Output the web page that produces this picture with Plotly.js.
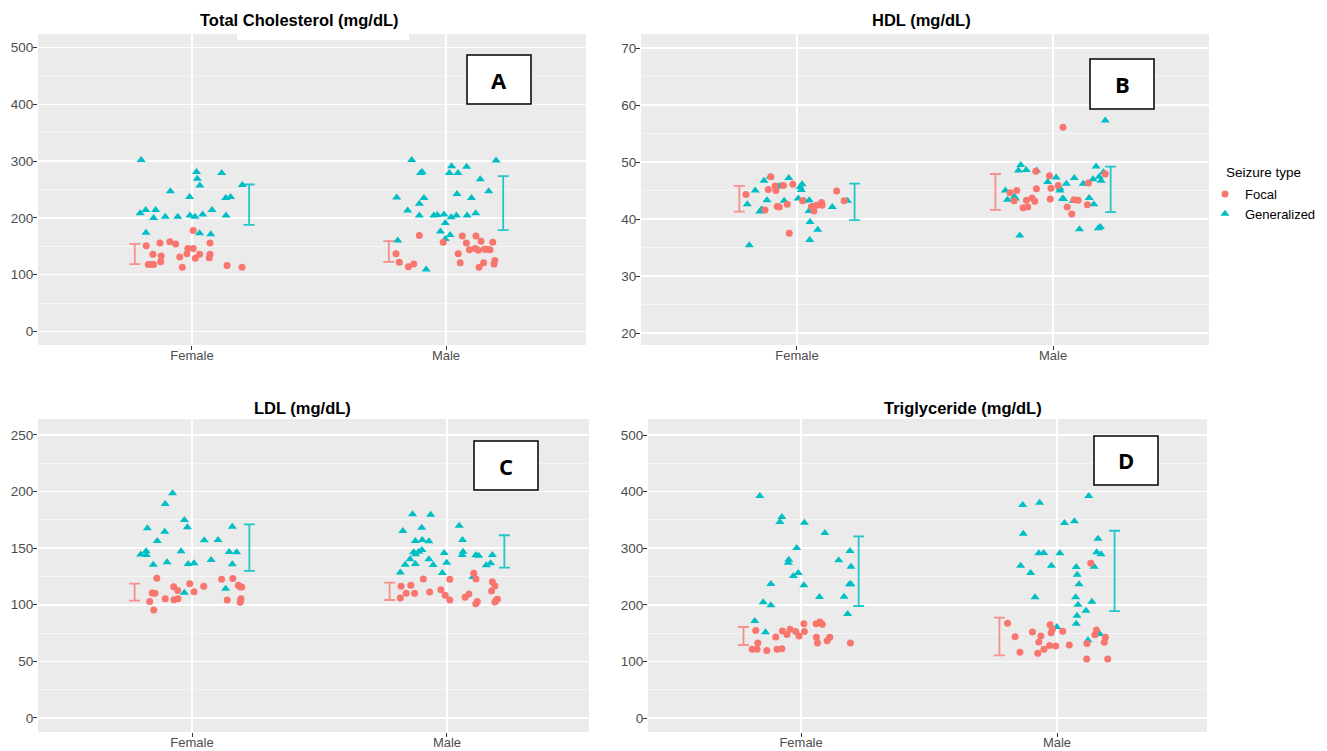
<!DOCTYPE html>
<html>
<head>
<meta charset="utf-8">
<script src="https://cdn.plot.ly/plotly-3.0.1.min.js"></script>
<style>html,body{margin:0;padding:0;background:#fff;}#chart{width:1327px;height:751px;}</style>
</head>
<body>
<div id="chart"></div>
<script>
// ---------------- DATA ----------------
const categories = ['Female', 'Male'];
const seizureTypes = ['Focal', 'Generalized'];
const legendTitle = 'Seizure type';
const panelTitles = ['Total Cholesterol (mg/dL)', 'HDL (mg/dL)', 'LDL (mg/dL)', 'Triglyceride (mg/dL)'];
const panelLetters = ['A', 'B', 'C', 'D'];

// Total cholesterol (A)
const tcFemaleGen = [302,281,279,269,257,258,247,237,235,237,214,214,208,200,202,202,204,202,206,214,204,174,173,171];
const tcFemaleGenJitter = [-0.200,0.018,0.117,0.021,0.031,0.198,-0.085,-0.009,0.133,0.152,-0.182,-0.143,-0.204,-0.151,-0.105,-0.056,-0.008,0.012,0.042,0.079,0.134,-0.181,0.030,0.074];
const tcFemaleFocal = [178,151,156,158,154,156,146,146,136,133,137,136,136,131,129,130,123,118,118,118,113,116,113];
const tcFemaleFocalJitter = [0.005,-0.180,-0.126,-0.087,-0.064,0.071,-0.016,0.005,-0.154,-0.121,-0.020,0.030,0.071,-0.048,0.013,0.068,-0.123,-0.172,-0.161,-0.151,-0.038,0.138,0.197];
const tcMaleGen = [302,291,290,301,281,279,279,279,268,247,236,235,242,235,225,213,204,204,205,206,201,204,204,208,191,176,170,163,160,109];
const tcMaleGenJitter = [-0.135,0.022,0.081,0.197,-0.094,-0.100,0.013,0.047,0.135,0.168,-0.194,-0.087,0.043,0.100,-0.105,-0.151,-0.105,-0.048,-0.034,-0.008,0.020,0.041,0.083,0.117,-0.003,-0.022,0.016,-0.003,-0.190,-0.078];
const tcMaleFocal = [169,157,168,168,156,159,157,144,146,143,145,145,144,137,137,122,119,114,121,121,125,119,113];
const tcMaleFocalJitter = [-0.105,-0.011,0.064,0.118,0.080,0.138,0.184,0.092,0.115,0.127,0.151,0.161,0.173,0.048,-0.197,-0.184,-0.127,-0.148,0.056,0.148,0.192,0.189,0.130];
const tcFocalLow = [118.5,122.7], tcFocalHigh = [154.4,159.0];
const tcGenLow = [187.8,178.4], tcGenHigh = [258.8,273.4];

// HDL (B)
const hdlFemaleFocal = [44.3,47.4,45.2,45.8,45.0,45.9,46.1,41.6,42.2,42.1,42.6,37.5,43.2,42.2,41.4,42.4,42.9,42.4,44.9,43.2];
const hdlFemaleFocalJitter = [-0.199,-0.102,-0.112,-0.085,-0.082,-0.053,-0.016,-0.125,-0.077,-0.069,-0.038,-0.030,0.022,0.057,0.066,0.077,0.096,0.098,0.155,0.184];
const hdlFemaleGen = [42.6,45.0,46.7,47.4,43.3,41.7,41.3,45.7,45.8,47.2,43.2,43.6,45.6,46.1,45.1,43.2,43.3,41.4,39.5,38.1,36.3,35.4,42.1,43.2];
const hdlFemaleGenJitter = [-0.194,-0.163,-0.129,-0.105,-0.117,-0.138,-0.145,-0.072,-0.064,-0.032,-0.050,0.005,0.012,0.020,0.017,0.029,0.048,0.047,0.051,0.081,0.050,-0.186,0.138,0.197];
const hdlMaleFocal = [56.1,44.6,45.0,43.2,42.0,42.1,43.3,43.7,43.1,45.3,48.4,47.6,45.4,43.5,45.9,42.1,40.9,43.4,43.3,42.5,46.3,47.9];
const hdlMaleFocalJitter = [0.039,-0.168,-0.142,-0.152,-0.117,-0.099,-0.104,-0.082,-0.071,-0.065,-0.067,-0.014,-0.008,-0.011,0.020,0.055,0.073,0.082,0.098,0.134,0.138,0.204];
const hdlMaleGen = [57.3,49.5,48.5,48.6,48.5,45.0,43.4,43.9,43.6,37.1,46.5,47.3,45.4,45.0,46.2,43.6,43.5,47.2,43.2,46.2,43.7,42.6,47.0,49.2,47.4,46.7,48.2,38.2,38.4,38.6];
const hdlMaleGenJitter = [0.204,-0.126,-0.135,-0.105,-0.064,-0.186,-0.178,-0.151,-0.147,-0.130,-0.021,0.012,0.027,0.027,0.052,0.037,0.041,0.083,0.079,0.118,0.141,0.159,0.156,0.168,0.180,0.188,0.197,0.103,0.177,0.185];
const hdlFocalLow = [41.3,41.6], hdlFocalHigh = [45.8,47.9];
const hdlGenLow = [39.8,41.2], hdlGenHigh = [46.2,49.2];

// LDL (C)
const ldlFemaleGen = [198.5,189.0,174.9,168.5,167.6,164.6,156.4,157.0,157.2,169.0,144.3,147.3,144.0,147.3,146.6,146.4,139.6,135.4,137.5,136.0,136.6,135.8,114.2,110.7];
const ldlFemaleGenJitter = [-0.076,-0.105,-0.030,-0.018,-0.175,-0.107,-0.136,0.048,0.102,0.158,-0.201,-0.180,-0.179,-0.043,0.146,0.175,0.075,-0.152,-0.098,-0.015,0.008,0.158,0.132,-0.030];
const ldlFemaleFocal = [123.4,122.5,123.1,116.0,118.6,116.3,117.2,116.0,115.7,110.4,110.1,112.5,111.6,105.4,104.5,105.4,102.8,104.3,105.4,104.0,102.2,95.4];
const ldlFemaleFocalJitter = [-0.138,0.116,0.160,-0.072,-0.009,0.046,0.182,0.188,0.195,-0.156,-0.145,-0.056,0.008,-0.105,-0.071,-0.055,-0.166,0.138,0.192,0.191,0.189,-0.150];
const ldlMaleGen = [180.0,179.6,169.9,165.2,168.1,156.4,157.2,156.1,157.2,146.4,144.6,146.9,148.4,145.8,146.9,144.0,143.7,143.4,144.0,140.2,140.2,137.2,135.4,136.0,135.2,134.9,136.7,128.4,128.1,124.6];
const ldlMaleGenJitter = [-0.135,-0.064,0.048,-0.173,-0.099,-0.124,-0.097,-0.071,0.061,-0.131,-0.123,-0.111,-0.098,-0.011,0.063,0.060,0.113,0.124,0.178,-0.145,-0.071,-0.001,-0.164,-0.124,-0.054,0.154,0.171,-0.183,-0.018,0.102];
const ldlMaleFocal = [122.8,122.5,127.8,122.8,116.3,117.2,120.4,116.6,110.1,110.1,111.3,113.3,112.2,106.0,108.4,104.2,106.6,109.5,101.0,102.8,102.5,104.2,104.8];
const ldlMaleFocalJitter = [-0.093,0.011,0.105,0.114,-0.180,-0.142,0.178,0.188,-0.160,-0.127,-0.068,-0.024,0.175,-0.183,-0.007,0.011,0.071,0.086,0.113,0.119,0.188,0.193,0.198];
const ldlFocalLow = [103.6,104.2], ldlFocalHigh = [118.6,119.5];
const ldlGenLow = [129.9,132.8], ldlGenHigh = [171.1,161.4];

// Triglyceride (D)
const tgFemaleGen = [392.2,355.1,346.3,345.1,326.9,300.4,279.7,274.4,256.2,250.9,278.6,236.7,234.4,204.4,199.1,213.8,171.4,151.4,295.0,267.3,236.2,236.2,214.3,183.7];
const tgFemaleGenJitter = [-0.161,-0.075,-0.083,0.013,0.093,-0.017,-0.048,-0.050,-0.011,-0.030,0.147,-0.118,0.011,-0.148,-0.118,0.072,-0.181,-0.139,0.191,0.195,0.189,0.195,0.168,0.182];
const tgFemaleFocal = [154.5,132.6,121.4,121.4,119.1,143.1,121.4,122.6,153.8,147.4,156.7,152.7,144.9,166.6,152.7,166.6,169.6,165.5,142.6,132.6,136.7,142.6,132.6];
const tgFemaleFocalJitter = [-0.177,-0.169,-0.191,-0.172,-0.134,-0.099,-0.094,-0.075,-0.073,-0.055,-0.043,-0.021,-0.008,0.011,0.013,0.059,0.074,0.083,0.060,0.064,0.102,0.112,0.193];
const tgMaleGen = [376.3,380.4,392.2,344.5,347.5,325.6,316.8,291.0,291.5,291.0,292.8,289.2,269.1,269.1,266.8,267.3,256.2,253.2,236.2,213.3,213.3,200.2,205.5,189.6,180.8,166.6,160.8,148.4,137.3];
const tgMaleGenJitter = [-0.134,-0.068,0.124,0.029,0.068,-0.132,0.160,-0.071,-0.052,0.011,0.155,0.172,-0.142,-0.022,0.075,0.145,-0.103,0.079,0.086,-0.086,0.073,0.082,0.136,0.113,0.078,0.075,-0.001,0.167,0.121];
const tgMaleFocal = [273.3,167.3,143.8,116.2,151.9,144.9,134.3,114.5,121.4,128.0,165.0,156.7,150.8,127.4,153.4,129.2,131.6,155.4,147.3,142.6,133.8,104.4,104.4];
const tgMaleFocalJitter = [0.132,-0.193,-0.164,-0.145,-0.096,-0.063,-0.071,-0.075,-0.051,-0.029,-0.027,-0.018,-0.023,-0.005,0.022,0.048,0.117,0.154,0.148,0.189,0.185,0.116,0.198];
const tgFocalLow = [129.0,110.8], tgFocalHigh = [160.8,177.3];
const tgGenLow = [197.9,189.0], tgGenHigh = [321.0,330.9];

// Y-axis ticks per panel
const tcTicks = [0,100,200,300,400,500];
const hdlTicks = [20,30,40,50,60,70];
const ldlTicks = [0,50,100,150,200,250];
const tgTicks = [0,100,200,300,400,500];

// ---------------- STYLE / LAYOUT ----------------
const W = 1327, H = 751;
const COL_FOCAL = '#F8766D', COL_GEN = '#00BFC4';
const EB_FOCAL = 'rgba(248,118,109,0.78)', EB_GEN = 'rgba(0,191,196,0.85)';
const DODGE = 0.225;
const FONT = 'Liberation Sans, Arial, sans-serif';

const panels = [
  {px:[38,586], py:[34,345], xr:[0.394,2.551], yr:[-23.8,523.8], ticks:tcTicks,
   title:{x:299,y:20}, box:[467,55,531,104],
   F:{foc:tcFemaleFocal, focJ:tcFemaleFocalJitter, gen:tcFemaleGen, genJ:tcFemaleGenJitter},
   M:{foc:tcMaleFocal, focJ:tcMaleFocalJitter, gen:tcMaleGen, genJ:tcMaleGenJitter},
   eb:{fl:tcFocalLow, fh:tcFocalHigh, gl:tcGenLow, gh:tcGenHigh}},
  {px:[641,1209], py:[34,345], xr:[0.391,2.609], yr:[17.9,72.46], ticks:hdlTicks,
   title:{x:921,y:20}, box:[1090,59,1154,109],
   F:{foc:hdlFemaleFocal, focJ:hdlFemaleFocalJitter, gen:hdlFemaleGen, genJ:hdlFemaleGenJitter},
   M:{foc:hdlMaleFocal, focJ:hdlMaleFocalJitter, gen:hdlMaleGen, genJ:hdlMaleGenJitter},
   eb:{fl:hdlFocalLow, fh:hdlFocalHigh, gl:hdlGenLow, gh:hdlGenHigh}},
  {px:[38,589], py:[419,732], xr:[0.396,2.557], yr:[-12.4,264.1], ticks:ldlTicks,
   title:{x:302,y:408}, box:[474,441,538,490],
   F:{foc:ldlFemaleFocal, focJ:ldlFemaleFocalJitter, gen:ldlFemaleGen, genJ:ldlFemaleGenJitter},
   M:{foc:ldlMaleFocal, focJ:ldlMaleFocalJitter, gen:ldlMaleGen, genJ:ldlMaleGenJitter},
   eb:{fl:ldlFocalLow, fh:ldlFocalHigh, gl:ldlGenLow, gh:ldlGenHigh}},
  {px:[648,1207], py:[419,732], xr:[0.402,2.586], yr:[-24.7,528.3], ticks:tgTicks,
   title:{x:963,y:408}, box:[1094,436,1158,485],
   F:{foc:tgFemaleFocal, focJ:tgFemaleFocalJitter, gen:tgFemaleGen, genJ:tgFemaleGenJitter},
   M:{foc:tgMaleFocal, focJ:tgMaleFocalJitter, gen:tgMaleGen, genJ:tgMaleGenJitter},
   eb:{fl:tgFocalLow, fh:tgFocalHigh, gl:tgGenLow, gh:tgGenHigh}}
];

const traces = [];
const layout = {
  width: W, height: H, margin:{l:0,r:0,t:0,b:0},
  paper_bgcolor:'#ffffff', plot_bgcolor:'#EBEBEB',
  font:{family:FONT, size:13, color:'#4D4D4D'},
  showlegend:true,
  legend:{x:1205/W, y:1-179/H, xanchor:'left', yanchor:'top', bgcolor:'rgba(255,255,255,0)',
          font:{family:FONT, size:13, color:'#000'}, tracegroupgap:0, itemwidth:30},
  shapes:[], annotations:[]
};

// legend title, aligned with the legend keys as in the reference
layout.annotations.push({xref:'paper', yref:'paper', x:1224/W, y:1-173/H, xanchor:'left', yanchor:'middle',
  showarrow:false, text:legendTitle, font:{family:FONT, size:13.5, color:'#000'}});

const catPos = [1, 2];

panels.forEach((p, i) => {
  const n = i === 0 ? '' : String(i+1);
  const xa = 'x' + n, ya = 'y' + n;
  const step = p.ticks[1] - p.ticks[0];
  layout['xaxis'+n] = {
    domain:[p.px[0]/W, p.px[1]/W], range:p.xr, anchor:ya,
    tickmode:'array', tickvals:catPos, ticktext:categories,
    showgrid:true, gridcolor:'#ffffff', gridwidth:1.5, zeroline:false, showline:false,
    ticks:'outside', ticklen:4, tickcolor:'#333333', tickwidth:1, ticklabelstandoff:-6,
    tickfont:{family:FONT, size:13, color:'#4D4D4D'}, fixedrange:true
  };
  layout['yaxis'+n] = {
    domain:[1-p.py[1]/H, 1-p.py[0]/H], range:p.yr, anchor:xa,
    tickmode:'linear', tick0:p.ticks[0], dtick:step,
    showgrid:true, gridcolor:'#ffffff', gridwidth:1.5, zeroline:false, showline:false,
    minor:{tick0:p.ticks[0], dtick:step/2, showgrid:true, gridcolor:'#F5F5F5', gridwidth:1, ticks:''},
    ticks:'outside', ticklen:4, tickcolor:'#333333', tickwidth:1, ticklabelstandoff:-3,
    tickfont:{family:FONT, size:13.5, color:'#4D4D4D'}, fixedrange:true
  };

  // points
  [['F',0],['M',1]].forEach(([s, ci]) => {
    const d = p[s];
    traces.push({
      type:'scatter', mode:'markers', xaxis:xa, yaxis:ya,
      x: d.gen.map((v,k) => catPos[ci] + d.genJ[k]), y: d.gen,
      name: seizureTypes[1], legendgroup:'gen', showlegend: (i===0 && ci===0),
      marker:{symbol:'triangle-up', size:8, color:COL_GEN, line:{width:0}},
      legendrank:2, hoverinfo:'y'
    });
    traces.push({
      type:'scatter', mode:'markers', xaxis:xa, yaxis:ya,
      x: d.foc.map((v,k) => catPos[ci] + d.focJ[k]), y: d.foc,
      name: seizureTypes[0], legendgroup:'foc', showlegend: (i===0 && ci===0),
      marker:{symbol:'circle', size:7, color:COL_FOCAL, line:{width:0}},
      legendrank:1, hoverinfo:'y'
    });
  });

  // error bars (dodged)
  const ebTrace = (low, high, off, col) => {
    const mid = low.map((l,k) => (l + high[k]) / 2);
    return {
      type:'scatter', mode:'markers', xaxis:xa, yaxis:ya, showlegend:false, hoverinfo:'skip',
      x: catPos.map(c => c + off), y: mid,
      marker:{size:2, opacity:0},
      error_y:{type:'data', symmetric:false, array: high.map((h,k)=>h-mid[k]),
               arrayminus: mid.map((m,k)=>m-low[k]), color:col, thickness:1.8, width:5.5}
    };
  };
  traces.push(ebTrace(p.eb.fl, p.eb.fh, -DODGE, EB_FOCAL));
  traces.push(ebTrace(p.eb.gl, p.eb.gh, DODGE, EB_GEN));

  // panel title
  layout.annotations.push({xref:'paper', yref:'paper', x:p.title.x/W, y:1-p.title.y/H,
    xanchor:'center', yanchor:'middle', showarrow:false, text:'<b>'+panelTitles[i]+'</b>',
    font:{family:FONT, size:16.5, color:'#000'}});

  // letter box
  const b = p.box;
  layout.shapes.push({type:'rect', xref:'paper', yref:'paper', layer:'above',
    x0:b[0]/W, x1:b[2]/W, y0:1-b[3]/H, y1:1-b[1]/H,
    fillcolor:'#ffffff', line:{color:'#000000', width:1.5}});
  layout.annotations.push({xref:'paper', yref:'paper', x:(b[0]+b[2])/2/W, y:1-(b[1]+b[3])/2/H,
    xanchor:'center', yanchor:'middle', showarrow:false, text:'<b>'+panelLetters[i]+'</b>',
    font:{family:'Open Sans, Liberation Sans, sans-serif', size:22, color:'#000'}});
});

// white strip under the first title (present in the reference image)
layout.shapes.push({type:'rect', xref:'paper', yref:'paper', layer:'above',
  x0:237/W, x1:409/W, y0:1-40/H, y1:1-32/H, fillcolor:'#ffffff', line:{width:0}});

Plotly.newPlot('chart', traces, layout, {displayModeBar:false, staticPlot:true});
</script>
</body>
</html>
